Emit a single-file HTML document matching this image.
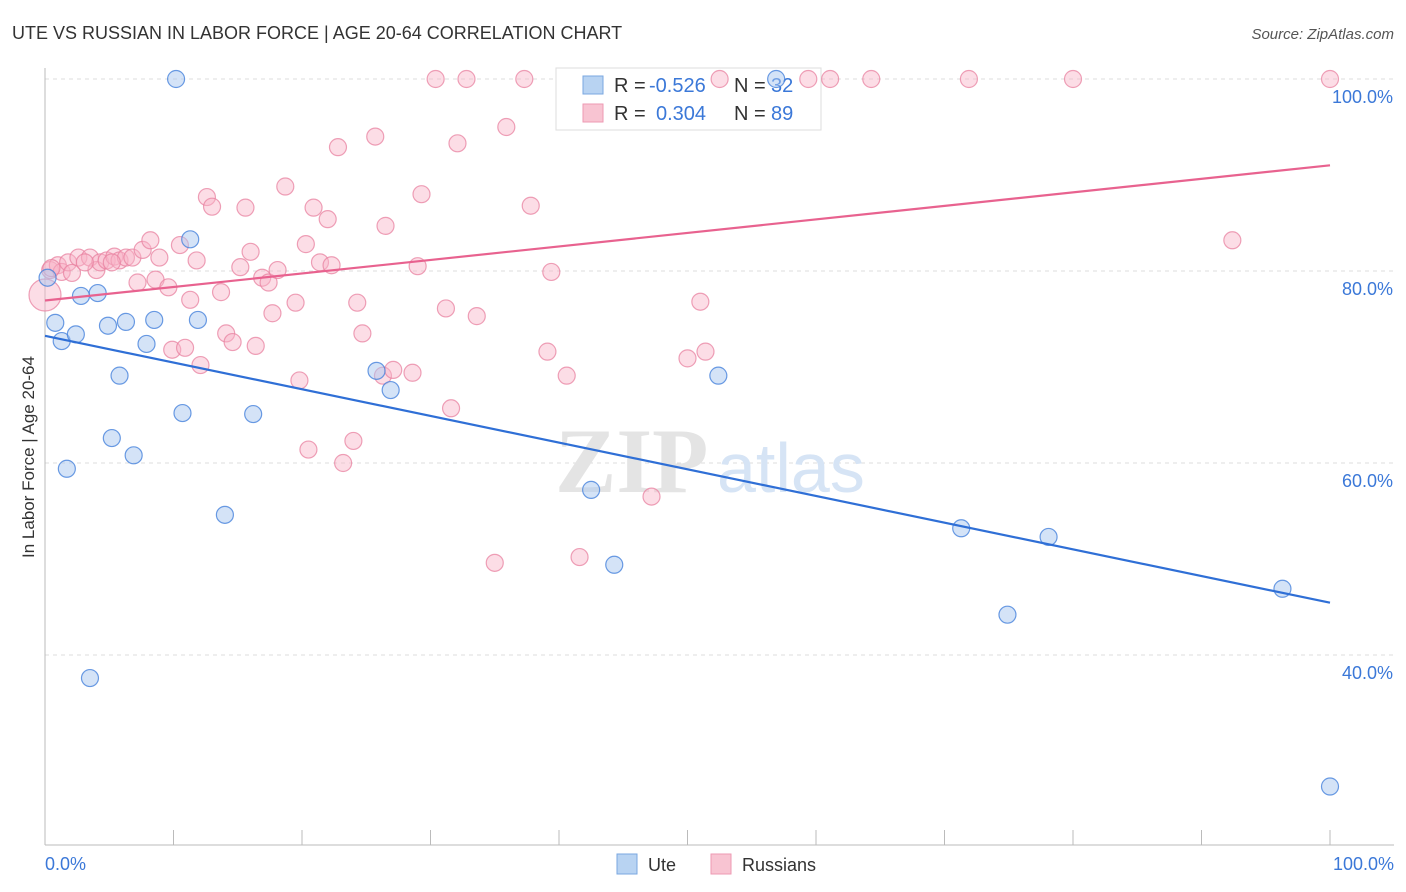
<!DOCTYPE html>
<html><head><meta charset="utf-8">
<style>
body{margin:0;background:#fff;font-family:"Liberation Sans",sans-serif;}
#wrap{position:relative;width:1406px;height:892px;overflow:hidden;}
</style></head>
<body>
<div id="wrap">
<svg id="chart" width="1406" height="892" xmlns="http://www.w3.org/2000/svg">
<text x="12" y="39" font-size="18" fill="#333">UTE VS RUSSIAN IN LABOR FORCE | AGE 20-64 CORRELATION CHART</text>
<text x="1394" y="39" font-size="15" fill="#555" font-style="italic" text-anchor="end">Source: ZipAtlas.com</text>
<text transform="translate(34,457) rotate(-90)" font-size="17" fill="#333" text-anchor="middle">In Labor Force | Age 20-64</text>
<g id="grid"></g>
<text x="555" y="492" font-size="92" fill="#e4e4e4" font-family="Liberation Serif,serif" font-weight="bold">ZIP</text>
<text x="717" y="492" font-size="70" fill="#d6e4f5">atlas</text>
<g id="legend-top">
<rect x="556" y="68" width="265" height="62" fill="#fff" stroke="#ddd"/>
<rect x="583" y="76" width="20" height="18" fill="#b8d3f2" stroke="#7aa7e0"/>
<rect x="583" y="104" width="20" height="18" fill="#f8c4d2" stroke="#ee9ab3"/>
<text x="614" y="92" font-size="20" fill="#333">R =</text>
<text x="649" y="92" font-size="20" fill="#3b78d8">-0.526</text>
<text x="734" y="92" font-size="20" fill="#333">N =</text>
<text x="771" y="92" font-size="20" fill="#3b78d8">32</text>
<text x="614" y="120" font-size="20" fill="#333">R =</text>
<text x="656" y="120" font-size="20" fill="#3b78d8">0.304</text>
<text x="734" y="120" font-size="20" fill="#333">N =</text>
<text x="771" y="120" font-size="20" fill="#3b78d8">89</text>
</g>
<g id="marks"></g>
<g>
<rect x="617" y="854" width="20" height="20" fill="#b8d3f2" stroke="#7aa7e0"/>
<text x="648" y="871" font-size="18" fill="#333">Ute</text>
<rect x="711" y="854" width="20" height="20" fill="#f8c4d2" stroke="#ee9ab3"/>
<text x="742" y="871" font-size="18" fill="#333">Russians</text>
</g>
</svg>
</div>
<script>
const yTicks=[40,60,80,100];
const xTickLabels=["0.0%","100.0%"];
const uteX=[10.2,0.2,0.8,1.3,1.7,2.4,2.8,4.1,3.5,4.9,5.2,5.8,6.3,6.9,7.9,8.5,10.7,11.3,11.9,14.0,16.2,25.8,26.9,42.5,44.3,52.4,56.9,71.3,78.1,74.9,96.3,100];
const uteY=[100,79.3,74.6,72.7,59.4,73.4,77.4,77.7,37.6,74.3,62.6,69.1,74.7,60.8,72.4,74.9,65.2,83.3,74.9,54.6,65.1,69.6,67.6,57.2,49.4,69.1,100,53.2,52.3,44.2,46.9,26.3];
const rusX=[0,0.4,1.0,1.3,1.8,2.1,2.6,3.5,4.0,4.3,4.8,5.4,5.8,6.3,6.8,7.2,7.6,8.2,8.6,8.9,9.6,9.9,10.5,10.9,11.3,11.8,12.1,12.6,13.0,13.7,14.1,14.6,15.2,15.6,16.0,16.4,16.9,17.4,17.7,18.1,18.7,19.5,19.8,20.3,20.5,20.9,21.4,22.0,22.3,22.8,23.2,24.0,24.3,24.7,25.7,26.3,26.5,27.1,28.6,29.0,29.3,30.4,31.2,31.6,32.1,32.8,33.6,35.0,35.9,37.3,37.8,39.1,39.4,40.6,41.6,47.2,50.0,51.0,51.4,52.5,59.4,61.1,64.3,71.9,80.0,92.4,100,3.1,0.5,5.2];
const rusY=[77.5,80.1,80.6,79.9,80.9,79.8,81.4,81.4,80.1,80.9,81.1,81.5,81.1,81.4,81.4,78.8,82.2,83.2,79.1,81.4,78.3,71.8,82.7,72.0,77.0,81.1,70.2,87.7,86.7,77.8,73.5,72.6,80.4,86.6,82.0,72.2,79.3,78.8,75.6,80.1,88.8,76.7,68.6,82.8,61.4,86.6,80.9,85.4,80.6,92.9,60.0,62.3,76.7,73.5,94.0,69.1,84.7,69.7,69.4,80.5,88.0,100,76.1,65.7,93.3,100,75.3,49.6,95.0,100,86.8,71.6,79.9,69.1,50.2,56.5,70.9,76.8,71.6,100,100,100,100,100,100,83.2,100,80.9,80.3,80.9];
const X=v=>45+v*12.85, Y=v=>79+(100-v)*9.6;
const NS="http://www.w3.org/2000/svg";
const grid=document.getElementById('grid'), marks=document.getElementById('marks');
function mk(tag,attrs,parent){const e=document.createElementNS(NS,tag);for(const k in attrs)e.setAttribute(k,attrs[k]);parent.appendChild(e);return e;}
yTicks.forEach(t=>{
  const l=mk('line',{x1:45,x2:1394,y1:Y(t),y2:Y(t),stroke:'#ddd','stroke-dasharray':'4,4'},grid);
  
  
  const tx=mk('text',{x:1393,y:Y(t)+24,'font-size':18,fill:'#3b78d8','text-anchor':'end'},grid);
  tx.textContent=t.toFixed(1)+'%';
  
  
});
const ax=mk('line',{x1:45,x2:45,y1:68,y2:845,stroke:'#bbb'},grid);


const bx=mk('line',{x1:45,x2:1394,y1:845,y2:845,stroke:'#bbb'},grid);


for(let i=0;i<=10;i++){
  const t=mk('line',{x1:X(i*10),x2:X(i*10),y1:830,y2:845,stroke:'#bbb'},grid);
  
  
}
[[0,'start',45],[100,'end',1394]].forEach((a,i)=>{
  const t=mk('text',{x:a[2],y:870,'font-size':18,fill:'#3b78d8','text-anchor':a[1]},grid);
  t.textContent=xTickLabels[i];
  
  
});
function fit(xs,ys){const n=xs.length;let mx=0,my=0;for(let i=0;i<n;i++){mx+=xs[i];my+=ys[i];}mx/=n;my/=n;let sxy=0,sxx=0;for(let i=0;i<n;i++){sxy+=(xs[i]-mx)*(ys[i]-my);sxx+=(xs[i]-mx)**2;}const b=sxy/sxx;return [my-b*mx,b];}
function drawPts(xs,ys,fill,stroke,name){
  xs.forEach((x,i)=>{
    const r=(name==='russians-point'&&i===0)?16:8.5;
    const c=mk('circle',{cx:X(x),cy:Y(ys[i]),r:r,fill:fill,stroke:stroke,'stroke-width':1.2},marks);
    
    
  });
}
drawPts(rusX,rusY,'rgba(248,180,200,0.45)','rgba(232,130,160,0.75)','russians-point');
drawPts(uteX,uteY,'rgba(170,200,240,0.5)','rgba(70,130,220,0.8)','ute-point');
[[uteX,uteY,'#2f6fd6','ute-trend-line'],[rusX,rusY,'#e8628f','russians-trend-line']].forEach(s=>{
  const [a,b]=fit(s[0],s[1]);
  const l=mk('line',{x1:X(0),y1:Y(a),x2:X(100),y2:Y(a+100*b),stroke:s[2],'stroke-width':2.2},marks);
  
  
});
</script>
</body></html>
